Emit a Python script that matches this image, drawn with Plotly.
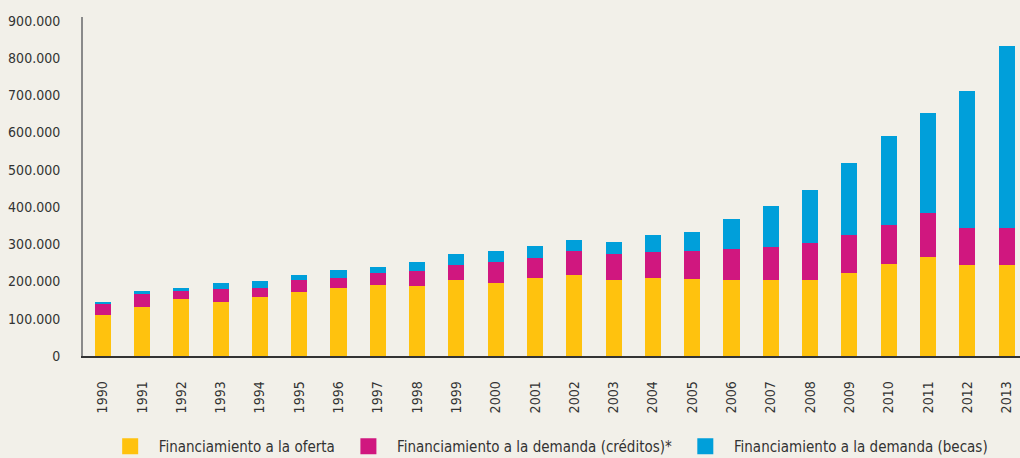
import plotly.graph_objects as go

years = [str(y) for y in range(1990, 2014)]
oferta = [110000, 131000, 152000, 145000, 159000, 173000, 182000, 191500, 189000, 205000,
          196000, 209000, 216500, 204000, 208500, 207500, 204000, 204000, 204000, 224000,
          246000, 266000, 245000, 245000]
creditos = [29000, 36000, 22500, 36000, 23500, 30000, 28000, 32500, 40000, 38500,
            55500, 55000, 64500, 70500, 71500, 74500, 83000, 89500, 99000, 101000,
            106500, 118000, 99500, 99500]
becas = [6000, 7000, 7500, 15000, 19500, 14500, 21000, 15000, 23000, 30500,
         30500, 31000, 29500, 30500, 45000, 51000, 81000, 108500, 142000, 192000,
         237500, 268000, 366000, 487500]

names = ["Financiamiento a la oferta",
         "Financiamiento a la demanda (créditos)*",
         "Financiamiento a la demanda (becas)"]
colors = ["#FFC20E", "#D0177F", "#009FDA"]
y_ticks = list(range(0, 900001, 100000))
y_ticktext = ["0" if v == 0 else f"{v // 1000}.000" for v in y_ticks]

FONT = "DejaVu Sans Condensed, Liberation Sans Narrow, sans-serif"
BG = "#F2F0E9"
NB = "\u00a0"

fig = go.Figure()
for vals, name, col in zip([oferta, creditos, becas], names, colors):
    fig.add_trace(go.Bar(x=years, y=vals, name=name, marker=dict(color=col, line=dict(width=0)),
                         showlegend=False))
for name, col in zip(names, colors):
    fig.add_trace(go.Scatter(x=[None], y=[None], mode="markers", name=NB * 2 + name + NB * 2,
                             marker=dict(symbol="square", size=16, color=col)))

fig.update_layout(
    width=1020, height=458,
    margin=dict(l=83, r=0, t=17, b=102, autoexpand=False),
    paper_bgcolor=BG, plot_bgcolor=BG,
    barmode="stack", bargap=0.59,
    font=dict(family=FONT, color="#333333"),
    legend=dict(orientation="h", traceorder="normal", x=0.029, xanchor="left",
                y=-0.267, yanchor="middle", borderwidth=0,
                font=dict(size=15, color="#333333"), bgcolor="rgba(0,0,0,0)"),
    xaxis=dict(type="category", range=[-0.5, 23.34], tickangle=-90, showgrid=False,
               automargin=False,
               showline=True, linecolor="#333333", linewidth=1.5, ticks="",
               ticklabelstandoff=18, tickfont=dict(size=14, color="#333333")),
    yaxis=dict(range=[0, 910000], tickvals=y_ticks, ticktext=y_ticktext, showgrid=False,
               automargin=False,
               zeroline=False, showline=True, linecolor="#8a8a8a", linewidth=2, ticks="",
               ticklabelstandoff=18, tickfont=dict(size=14, color="#333333")),
)

fig.write_html(
    "out.html",
    config={"displayModeBar": False},
    post_script="document.body.style.margin='0';document.body.style.background='#F2F0E9';"
                "document.documentElement.style.overflow='hidden';",
)
